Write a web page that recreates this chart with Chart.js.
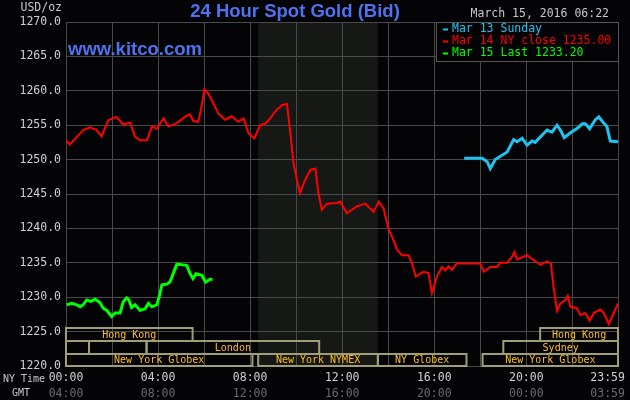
<!DOCTYPE html>
<html>
<head>
<meta charset="utf-8">
<script src="https://cdn.jsdelivr.net/npm/chart.js@4"></script>
<style>
html, body { margin: 0; padding: 0; background: #040406; }
</style>
</head>
<body>
<canvas id="gold" width="630" height="400"></canvas>
<script>
// times are minutes after midnight NY time, prices USD/oz
const sundayTime  = [1038, 1085, 1098, 1106, 1119, 1150, 1167, 1176, 1189, 1202, 1215, 1223, 1254, 1267, 1280, 1289, 1299, 1315, 1332, 1346, 1354, 1365, 1380, 1389, 1402, 1410, 1419, 1439];
const sundayPrice = [1250.2, 1250.2, 1249.7, 1248.7, 1250.0, 1251.1, 1252.9, 1252.6, 1253.1, 1252.1, 1252.7, 1252.5, 1254.3, 1254.0, 1255.0, 1254.3, 1253.2, 1253.9, 1254.5, 1255.2, 1255.2, 1254.5, 1255.8, 1256.2, 1255.3, 1254.8, 1252.7, 1252.6];

const closeTime  = [0, 10, 45, 63, 80, 93, 110, 132, 149, 167, 180, 193, 211, 224, 237, 254, 267, 289, 310, 323, 332, 345, 354, 361, 371, 384, 397, 415, 432, 449, 463, 476, 491, 506, 519, 532, 550, 563, 576, 584, 593, 602, 610, 623, 637, 650, 658, 667, 680, 706, 715, 732, 758, 780, 802, 815, 828, 841, 850, 863, 876, 893, 902, 912, 932, 945, 954, 967, 980, 989, 997, 1006, 1019, 1080, 1089, 1106, 1124, 1132, 1150, 1163, 1169, 1176, 1202, 1219, 1237, 1254, 1264, 1271, 1280, 1289, 1302, 1308, 1315, 1332, 1341, 1354, 1365, 1376, 1393, 1402, 1415, 1428, 1439];
const closePrice = [1252.8, 1252.2, 1254.3, 1254.7, 1254.3, 1253.4, 1255.7, 1256.2, 1255.1, 1255.4, 1253.3, 1252.8, 1252.8, 1254.8, 1254.5, 1256.0, 1254.8, 1255.3, 1256.2, 1256.6, 1255.6, 1255.5, 1257.9, 1260.2, 1259.6, 1258.2, 1256.7, 1255.8, 1256.3, 1255.5, 1256.0, 1253.8, 1253.1, 1255.0, 1255.2, 1256.0, 1257.3, 1257.9, 1258.1, 1254.3, 1249.5, 1247.0, 1245.1, 1247.0, 1248.5, 1248.7, 1245.1, 1242.7, 1243.6, 1243.7, 1243.9, 1242.2, 1243.2, 1243.6, 1242.4, 1243.9, 1242.9, 1239.8, 1238.8, 1236.9, 1236.1, 1236.1, 1234.9, 1233.0, 1233.7, 1233.5, 1230.6, 1233.0, 1234.4, 1233.9, 1234.5, 1234.0, 1234.9, 1234.9, 1233.7, 1234.4, 1234.4, 1235.0, 1235.0, 1235.9, 1236.6, 1235.5, 1236.1, 1235.4, 1234.7, 1235.2, 1234.9, 1231.5, 1228.0, 1229.1, 1229.6, 1230.2, 1228.6, 1228.4, 1227.4, 1227.7, 1226.6, 1227.7, 1228.2, 1227.7, 1226.1, 1227.7, 1229.1];

const lastTime  = [2, 15, 28, 37, 45, 54, 64, 76, 89, 97, 106, 119, 128, 141, 149, 158, 164, 171, 180, 193, 206, 215, 224, 237, 243, 250, 263, 271, 280, 289, 306, 315, 323, 331, 339, 354, 364, 376, 382];
const lastPrice = [1228.9, 1229.1, 1228.9, 1228.6, 1228.9, 1229.6, 1229.4, 1229.7, 1229.2, 1228.4, 1228.1, 1227.2, 1227.7, 1227.7, 1229.3, 1229.9, 1229.6, 1228.5, 1228.9, 1228.1, 1228.3, 1229.1, 1228.6, 1228.9, 1230.1, 1231.8, 1231.9, 1232.2, 1233.5, 1234.8, 1234.7, 1234.6, 1233.5, 1232.7, 1233.4, 1233.2, 1232.2, 1232.6, 1232.6];

const seriesLabels = ['Mar 13 Sunday', 'Mar 14 NY close 1235.00', 'Mar 15 Last 1233.20'];

const gridMinutes = [0, 120, 240, 360, 480, 600, 720, 840, 960, 1080, 1200, 1320, 1439];
const labelMinutes = [0, 240, 480, 720, 960, 1200, 1439];
const nyLabels  = ['00:00', '04:00', '08:00', '12:00', '16:00', '20:00', '23:59'];
const gmtLabels = ['04:00', '08:00', '12:00', '16:00', '20:00', '00:00', '03:59'];

// trading sessions, hours NY time, row 0 = top
const sessionName  = ['Hong Kong', 'Hong Kong', '', '', 'London', 'Sydney', 'New York Globex', 'New York NYMEX', 'NY Globex', 'New York Globex'];
const sessionStart = [0, 20.6, 0, 1, 3.5, 19, 0, 8.35, 13.55, 18.1];
const sessionEnd   = [5.5, 24, 1, 3.5, 11, 24, 8.1, 13.55, 17.4, 24];
const sessionRow   = [0, 0, 1, 1, 1, 1, 2, 2, 2, 2];

const nymexOpen = 8.35, nymexClose = 13.55;

const mono = '"DejaVu Sans Mono", monospace';

function toPoints(times, prices) {
    return times.map((t, i) => ({ x: t, y: prices[i] }));
}

const decor = {
    id: 'decor',
    beforeDraw(chart) {
        const ctx = chart.ctx, a = chart.chartArea, xs = chart.scales.x;
        ctx.save();
        ctx.fillStyle = '#040406';
        ctx.fillRect(0, 0, chart.width, chart.height);
        const x0 = xs.getPixelForValue(nymexOpen * 60);
        const x1 = xs.getPixelForValue(nymexClose * 60);
        ctx.fillStyle = '#151815';
        ctx.fillRect(x0, a.top, x1 - x0, a.bottom - a.top);
        ctx.restore();
    },
    beforeDatasetsDraw(chart) {
        const ctx = chart.ctx, a = chart.chartArea, xs = chart.scales.x;
        const rowTop = [a.bottom - 38, a.bottom - 25, a.bottom - 12];
        const rowH = [13, 13, 12];
        ctx.save();
        ctx.font = '10px ' + mono;
        ctx.textAlign = 'center';
        ctx.textBaseline = 'middle';
        for (let i = 0; i < sessionName.length; i++) {
            const x0 = xs.getPixelForValue(sessionStart[i] * 60);
            const x1 = xs.getPixelForValue(Math.min(sessionEnd[i] * 60, 1439));
            const r = sessionRow[i];
            ctx.strokeStyle = '#a09e74';
            ctx.lineWidth = 2;
            ctx.strokeRect(x0, rowTop[r], x1 - x0, rowH[r]);
            if (sessionName[i]) {
                ctx.fillStyle = '#ffbf1f';
                ctx.fillText(sessionName[i], (x0 + x1) / 2, rowTop[r] + rowH[r] / 2 + 0.5);
            }
        }
        ctx.restore();
    },
    afterDraw(chart) {
        const ctx = chart.ctx, a = chart.chartArea;
        ctx.save();
        ctx.fillStyle = '#4f73f0';
        ctx.font = 'bold 18.5px "Liberation Sans", Arial, sans-serif';
        ctx.textAlign = 'center';
        ctx.textBaseline = 'alphabetic';
        ctx.fillText('24 Hour Spot Gold (Bid)', 295, 17);
        ctx.textAlign = 'left';
        ctx.fillText('www.kitco.com', 68, 55);

        ctx.font = '11.5px ' + mono;
        ctx.textBaseline = 'middle';
        ctx.fillStyle = '#c8c8c8';
        ctx.textAlign = 'right';
        ctx.fillText('March 15, 2016 06:22', 609, 14.5);
        ctx.fillText('USD/oz', 62, 8);

        ctx.font = '10px ' + mono;
        ctx.textAlign = 'left';
        ctx.fillText('NY Time', 3, 379);
        ctx.fillText('GMT', 12, 393.5);

        // legend box
        const lx = a.right - 182, ly = a.top;
        ctx.fillStyle = '#040406';
        ctx.fillRect(lx, ly, 183, 39);
        ctx.strokeStyle = '#555555';
        ctx.lineWidth = 1;
        ctx.strokeRect(lx + 0.5, ly + 0.5, 182, 39);
        ctx.font = '11.5px ' + mono;
        chart.data.datasets.forEach((ds, i) => {
            const y = ly + 7.5 + i * 12;
            ctx.fillStyle = ds.borderColor;
            ctx.fillRect(lx + 7, y - 1, 5, 2);
            ctx.fillText(ds.label, lx + 16, y);
        });
        ctx.restore();
    }
};

new Chart(document.getElementById('gold'), {
    type: 'line',
    data: {
        datasets: [
            { label: seriesLabels[0], data: toPoints(sundayTime, sundayPrice), borderColor: '#1ec4f0', borderWidth: 3 },
            { label: seriesLabels[1], data: toPoints(closeTime, closePrice), borderColor: '#ff0000', borderWidth: 2 },
            { label: seriesLabels[2], data: toPoints(lastTime, lastPrice), borderColor: '#00ff00', borderWidth: 3 }
        ]
    },
    options: {
        responsive: false,
        animation: false,
        events: [],
        layout: { padding: { left: 0, right: 12, top: 22, bottom: 0 } },
        elements: { point: { radius: 0 }, line: { tension: 0, borderJoinStyle: 'miter' } },
        plugins: { legend: { display: false }, title: { display: false }, tooltip: { enabled: false } },
        scales: {
            y: {
                min: 1220, max: 1270,
                ticks: {
                    stepSize: 5, padding: 5, color: '#d0d0d0',
                    font: { family: 'DejaVu Sans Mono', size: 11.5 },
                    callback: v => v.toFixed(1)
                },
                grid: { color: '#4a4a4a', drawTicks: false },
                border: { color: '#4a4a4a' },
                afterFit(s) { s.width = 66; s.paddingTop = 0; s.paddingBottom = 0; }
            },
            x: {
                type: 'linear', min: 0, max: 1439, weight: 1,
                afterBuildTicks(s) { s.ticks = gridMinutes.map(v => ({ value: v })); },
                ticks: {
                    autoSkip: false, maxRotation: 0, padding: 5, color: '#d0d0d0',
                    font: { family: 'DejaVu Sans Mono', size: 11.5 },
                    callback: v => {
                        const i = labelMinutes.indexOf(v);
                        return i < 0 ? '' : nyLabels[i] + (v === 1439 ? '   ' : '');
                    }
                },
                grid: { color: '#4a4a4a', drawTicks: false },
                border: { color: '#4a4a4a' },
                afterFit(s) { s.height = 16; s.paddingLeft = 0; s.paddingRight = 0; }
            },
            x2: {
                type: 'linear', position: 'bottom', min: 0, max: 1439, weight: 2,
                afterBuildTicks(s) { s.ticks = labelMinutes.map(v => ({ value: v })); },
                ticks: {
                    autoSkip: false, maxRotation: 0, padding: 5, color: '#6a6a6a',
                    font: { family: 'DejaVu Sans Mono', size: 11.5 },
                    callback: v => {
                        const i = labelMinutes.indexOf(v);
                        return i < 0 ? '' : gmtLabels[i] + (v === 1439 ? '   ' : '');
                    }
                },
                grid: { display: false, drawTicks: false },
                border: { display: false },
                afterFit(s) { s.height = 18; s.paddingLeft = 0; s.paddingRight = 0; }
            }
        }
    },
    plugins: [decor]
});
</script>
</body>
</html>
